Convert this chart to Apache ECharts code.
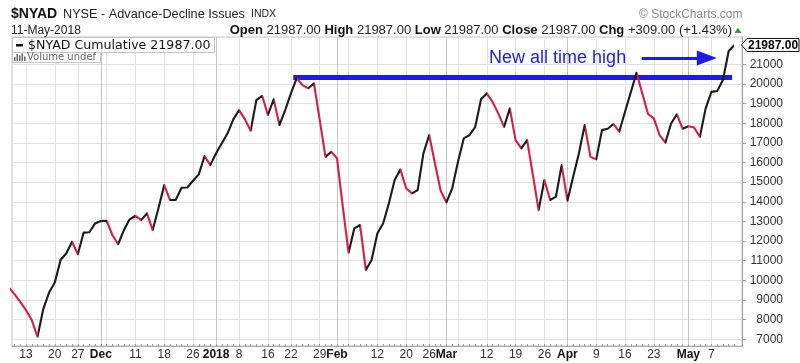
<!DOCTYPE html>
<html><head><meta charset="utf-8">
<script src="https://cdn.jsdelivr.net/npm/echarts@6/dist/echarts.min.js"></script>
<style>html,body{margin:0;padding:0;background:#fff}#c{width:800px;height:363px}</style>
</head><body><div id="c"></div>
<script>
// ---- data ----
const dates = [
 '2017-11-08','2017-11-09','2017-11-10','2017-11-13','2017-11-14','2017-11-15','2017-11-16','2017-11-17','2017-11-20','2017-11-21','2017-11-22','2017-11-24','2017-11-27','2017-11-28','2017-11-29','2017-11-30',
 '2017-12-01','2017-12-04','2017-12-05','2017-12-06','2017-12-07','2017-12-08','2017-12-11','2017-12-12','2017-12-13','2017-12-14','2017-12-15','2017-12-18','2017-12-19','2017-12-20','2017-12-21','2017-12-22','2017-12-26','2017-12-27','2017-12-28','2017-12-29',
 '2018-01-02','2018-01-03','2018-01-04','2018-01-05','2018-01-08','2018-01-09','2018-01-10','2018-01-11','2018-01-12','2018-01-16','2018-01-17','2018-01-18','2018-01-19','2018-01-22','2018-01-23','2018-01-24','2018-01-25','2018-01-26','2018-01-29','2018-01-30','2018-01-31',
 '2018-02-01','2018-02-02','2018-02-05','2018-02-06','2018-02-07','2018-02-08','2018-02-09','2018-02-12','2018-02-13','2018-02-14','2018-02-15','2018-02-16','2018-02-20','2018-02-21','2018-02-22','2018-02-23','2018-02-26','2018-02-27','2018-02-28',
 '2018-03-01','2018-03-02','2018-03-05','2018-03-06','2018-03-07','2018-03-08','2018-03-09','2018-03-12','2018-03-13','2018-03-14','2018-03-15','2018-03-16','2018-03-19','2018-03-20','2018-03-21','2018-03-22','2018-03-23','2018-03-26','2018-03-27','2018-03-28','2018-03-29',
 '2018-04-02','2018-04-03','2018-04-04','2018-04-05','2018-04-06','2018-04-09','2018-04-10','2018-04-11','2018-04-12','2018-04-13','2018-04-16','2018-04-17','2018-04-18','2018-04-19','2018-04-20','2018-04-23','2018-04-24','2018-04-25','2018-04-26','2018-04-27','2018-04-30',
 '2018-05-01','2018-05-02','2018-05-03','2018-05-04','2018-05-07','2018-05-08','2018-05-09','2018-05-10','2018-05-11'
];
const adValues = [
 9650,9300,8910,8490,7980,7130,8540,9380,9890,11040,11380,11970,11330,12430,12450,12900,
 13020,13030,12310,11840,12560,13110,13290,13070,13410,12560,13670,14850,14090,14100,14720,14730,15070,15400,16330,15870,
 16470,16980,17490,18200,18670,18210,17620,19180,19400,18420,19220,17910,18670,19520,20300,19940,19780,20030,18160,16290,16550,
 16210,13750,11410,12650,12820,10530,11040,12390,12900,13920,15110,15650,14690,14430,14600,16470,17400,15960,14560,
 13970,14690,16040,17230,17400,17820,19220,19520,19090,18500,17820,18760,17140,16720,17140,15380,13580,15110,14090,14260,15870,
 14060,15280,16470,17910,16290,16160,17650,17720,17960,17570,18590,19570,20570,19520,18470,18250,17400,17010,17990,18450,17720,
 17850,17780,17310,18760,19600,19640,20200,21678,21987
];
const xLabelDates = ['2017-11-13','2017-11-20','2017-11-27','2017-12-01','2017-12-11','2017-12-18','2017-12-26','2018-01-02','2018-01-08','2018-01-16','2018-01-22','2018-01-29','2018-02-01','2018-02-12','2018-02-20','2018-02-26','2018-03-01','2018-03-12','2018-03-19','2018-03-26','2018-04-02','2018-04-09','2018-04-16','2018-04-23','2018-05-01','2018-05-07'];
const xLabelTexts = ['13','20','27','Dec','11','18','26','2018','8','16','22','29','Feb','12','20','26','Mar','12','19','26','Apr','9','16','23','May','7'];
const boldLabels = ['Dec','2018','Feb','Mar','Apr','May'];
const weekGridDates = ['2017-11-13','2017-11-20','2017-11-27','2017-12-04','2017-12-11','2017-12-18','2017-12-26','2018-01-02','2018-01-08','2018-01-16','2018-01-22','2018-01-29','2018-02-05','2018-02-12','2018-02-20','2018-02-26','2018-03-05','2018-03-12','2018-03-19','2018-03-26','2018-04-02','2018-04-09','2018-04-16','2018-04-23','2018-04-30','2018-05-07'];
const monthGridDates = ['2017-12-01','2018-01-02','2018-02-01','2018-03-01','2018-04-02','2018-05-01'];
const yTicks = [7000,8000,9000,10000,11000,12000,13000,14000,15000,16000,17000,18000,19000,20000,21000];

// annotation (data units: day index, value)
const athLevel = 20366, athFrom = 49.4, athTo = 125.6;
const arrowLevel = 21318, arrowFrom = 109.9, arrowTo = 121.2, noteAt = 83.4;
const noteText = 'New all time high';

// ---- chart ----
const X_MIN = 0.57, X_MAX = 127.31, Y_MIN = 6659, Y_MAX = 22392;
const UP = '#1b1b1b', DOWN = '#d81d45', BLUE = '#1c1ce8';
const FONT = 'Liberation Sans, Arial, sans-serif';
const idx = d => dates.indexOf(d);
const labelPos = xLabelDates.map(idx);
const seriesData = adValues.map((v, k) => [k, v]);
const pieces = [];
for (let k = 0; k < adValues.length - 1; k++) {
  const c = adValues[k + 1] >= adValues[k] ? UP : DOWN;
  const p = {gte: k, color: c};
  if (k === adValues.length - 2) p.lte = k + 1; else p.lt = k + 1;
  pieces.push(p);
}
const chart = echarts.init(document.getElementById('c'), null, {renderer: 'canvas'});
const xBase = {type: 'value', min: X_MIN, max: X_MAX, gridIndex: 0};
const option = {
  animation: false,
  backgroundColor: '#ffffff',
  grid: {left: 12, right: 58, top: 37, bottom: 17, show: true, borderColor: '#c4c4c4', borderWidth: 1, backgroundColor: 'transparent'},
  visualMap: {show: false, type: 'piecewise', dimension: 0, seriesIndex: 0, pieces: pieces},
  xAxis: [
    Object.assign({}, xBase, {
      position: 'bottom',
      axisLine: {show: true, lineStyle: {color: '#a8a8a8'}},
      axisTick: {show: true, inside: true, length: 2, customValues: dates.map((d, k) => k), lineStyle: {color: '#999'}},
      axisLabel: {
        customValues: labelPos, margin: 3, color: '#333', fontSize: 12, fontFamily: FONT,
        formatter: v => { const t = xLabelTexts[labelPos.indexOf(v)]; return boldLabels.includes(t) ? '{b|' + t + '}' : t; },
        rich: {b: {fontWeight: 'bold', fontSize: 12, fontFamily: FONT, color: '#111'}}
      },
      splitLine: {show: false}
    }),
    Object.assign({}, xBase, {
      axisLine: {show: false}, axisLabel: {show: false},
      axisTick: {show: false, customValues: weekGridDates.map(idx)},
      splitLine: {show: true, lineStyle: {color: '#e2e2e2', width: 1}}
    }),
    Object.assign({}, xBase, {
      axisLine: {show: false}, axisLabel: {show: false},
      axisTick: {show: false, customValues: monthGridDates.map(idx)},
      splitLine: {show: true, lineStyle: {color: '#c6c6c6', width: 1}}
    })
  ],
  yAxis: {
    type: 'value', position: 'right', min: Y_MIN, max: Y_MAX,
    axisLine: {show: true, lineStyle: {color: '#a0a0a0'}},
    axisTick: {show: true, length: 4, customValues: yTicks, lineStyle: {color: '#a0a0a0'}},
    axisLabel: {customValues: yTicks, align: 'right', margin: 41, color: '#333', fontSize: 12, fontFamily: FONT,
                formatter: v => String(Math.round(v))},
    splitLine: {show: true, lineStyle: {color: '#e2e2e2', width: 1}}
  },
  series: [
    {type: 'line', xAxisIndex: 0, yAxisIndex: 0, data: seriesData, showSymbol: false, symbol: 'none',
     lineStyle: {width: 2.1, join: 'round', cap: 'round'}, z: 5, clip: true},
    {type: 'line', xAxisIndex: 0, yAxisIndex: 0, data: [], z: 6,
     markLine: {silent: true, animation: false, symbol: ['none', 'none'], label: {show: false},
       data: [
         [{coord: [athFrom, athLevel], lineStyle: {color: BLUE, width: 5, type: 'solid', cap: 'butt'}}, {coord: [athTo, athLevel]}],
         [{coord: [arrowFrom, arrowLevel], symbol: 'none', lineStyle: {color: BLUE, width: 3, type: 'solid'}},
          {coord: [arrowTo, arrowLevel], symbol: 'triangle', symbolSize: [15, 20]}]
       ]}}
  ]
};
chart.setOption(option);

// overlays positioned through the chart's own scales
const lastK = adValues.length - 1;
const pLast = chart.convertToPixel({xAxisIndex: 0, yAxisIndex: 0}, [lastK, adValues[lastK]]);
const pNote = chart.convertToPixel({xAxisIndex: 0, yAxisIndex: 0}, [noteAt, arrowLevel]);
const axisX = chart.convertToPixel({xAxisIndex: 0}, X_MAX);
const ty = pLast[1];
const lastStr = adValues[lastK].toFixed(2);

const g = [
  // header
  {type: 'text', x: 11, y: 14, style: {text: '$NYAD', font: 'bold 14px ' + FONT, fill: '#111', verticalAlign: 'middle'}},
  {type: 'text', x: 63, y: 14, style: {text: 'NYSE - Advance-Decline Issues', font: '12.7px ' + FONT, fill: '#222', verticalAlign: 'middle'}},
  {type: 'text', x: 251, y: 14.5, style: {text: 'INDX', font: '10.5px ' + FONT, fill: '#222', verticalAlign: 'middle'}},
  {type: 'text', x: 11, y: 30.5, style: {text: '11-May-2018', font: '12px ' + FONT, fill: '#222', verticalAlign: 'middle'}},
  {type: 'text', x: 732, y: 30, style: {
    text: '{b|Open} 21987.00 {b|High} 21987.00 {b|Low} 21987.00 {b|Close} 21987.00 {b|Chg} +309.00 (+1.43%)',
    font: '13px ' + FONT, fill: '#222', align: 'right', verticalAlign: 'middle',
    rich: {b: {font: 'bold 13px ' + FONT, fill: '#111'}}}},
  {type: 'polygon', shape: {points: [[734.5, 33], [741.5, 33], [738, 27.5]]}, style: {fill: '#3c963c'}},
  {type: 'text', x: 639, y: 15, style: {text: '\u00A9 StockCharts.com', font: '12px ' + FONT, fill: '#8a8a8a', verticalAlign: 'middle'}},
  // legend boxes
  {type: 'rect', shape: {x: 12.5, y: 37.5, width: 202, height: 15}, style: {fill: '#fff', stroke: '#c4c4c4', lineWidth: 1}, z: 10},
  {type: 'rect', shape: {x: 12.5, y: 52.5, width: 88, height: 10}, style: {fill: '#fff', stroke: '#c4c4c4', lineWidth: 1}, z: 10},
  {type: 'rect', shape: {x: 16, y: 44, width: 7, height: 2.5}, style: {fill: '#111'}, z: 11},
  {type: 'text', x: 28, y: 45.5, style: {text: '$NYAD Cumulative ' + lastStr, font: '12.6px DejaVu Sans, Verdana, sans-serif', fill: '#111', verticalAlign: 'middle'}, z: 11},
  {type: 'rect', shape: {x: 14, y: 57, width: 1.5, height: 4}, style: {fill: '#666'}, z: 11},
  {type: 'rect', shape: {x: 16.5, y: 54, width: 1.5, height: 7}, style: {fill: '#666'}, z: 11},
  {type: 'rect', shape: {x: 19, y: 55.5, width: 1.5, height: 5.5}, style: {fill: '#666'}, z: 11},
  {type: 'rect', shape: {x: 21.5, y: 53.5, width: 1.5, height: 7.5}, style: {fill: '#666'}, z: 11},
  {type: 'rect', shape: {x: 24, y: 56.5, width: 1.5, height: 4.5}, style: {fill: '#666'}, z: 11},
  {type: 'text', x: 27, y: 57.5, style: {text: 'Volume undef', font: '10px DejaVu Sans, Verdana, sans-serif', fill: '#666', verticalAlign: 'middle'}, z: 11},
  // annotation text
  {type: 'text', x: pNote[0], y: pNote[1], style: {text: noteText, font: '18px ' + FONT, fill: BLUE, verticalAlign: 'middle'}, z: 12},
  // last value tag
  {type: 'polygon', shape: {points: [[axisX - 0.5, ty], [axisX + 5, ty - 6.5], [799, ty - 6.5], [799, ty + 6.5], [axisX + 5, ty + 6.5]]},
   style: {fill: '#fff', stroke: '#111', lineWidth: 1}, z: 12},
  {type: 'text', x: axisX + 6, y: ty + 0.5, style: {text: lastStr, font: 'bold 12px ' + FONT, fill: '#000', verticalAlign: 'middle'}, z: 13}
];
chart.setOption({graphic: g});
</script>
</body></html>
